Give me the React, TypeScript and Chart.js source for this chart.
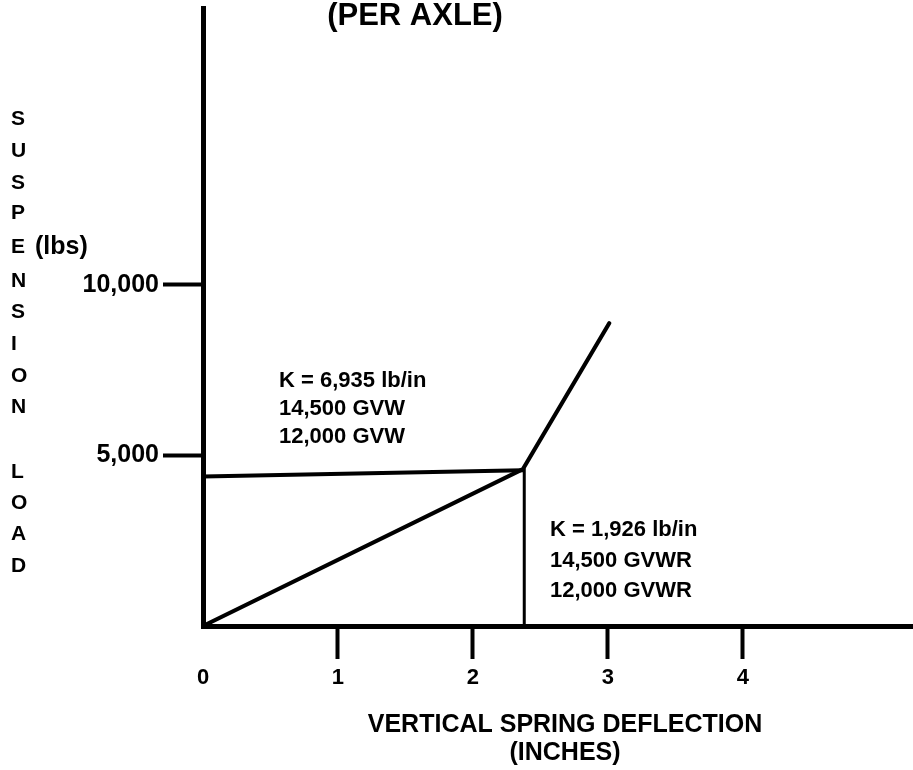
import React, { useEffect, useRef } from 'react';
import { Chart, registerables } from 'chart.js';

Chart.register(...registerables);

// ---- data ----
const springDeflection = [0, 2.37, 3.01]; // inches
const springLoad = [0, 4600, 8880]; // lbs
const gvwLineDeflection = [0, 2.37];
const gvwLineLoad = [4380, 4570];
const gvwrLineDeflection = [2.38, 2.38];
const gvwrLineLoad = [4600, 0];

const xTickValues = [0, 1, 2, 3, 4];
const xTickLabels = ['0', '1', '2', '3', '4'];
const yTickValues = [5000, 10000];
const yTickLabels = ['5,000', '10,000'];
const xMin = 0;
const xMax = 5.26;
const yMin = 0;
const yMax = 18120;

const chartTitle = '(PER AXLE)';
const yTitleLetters = ['S', 'U', 'S', 'P', 'E', 'N', 'S', 'I', 'O', 'N', '', 'L', 'O', 'A', 'D'];
const yTitleUnit = '(lbs)';
const xTitleLines = ['VERTICAL SPRING DEFLECTION', '(INCHES)'];
const noteFront = ['K = 6,935 lb/in', '14,500 GVW', '12,000 GVW'];
const noteRear = ['K = 1,926 lb/in', '14,500 GVWR', '12,000 GVWR'];

const FONT = "'Liberation Sans', Arial, Helvetica, sans-serif";

const textPlugin = {
  id: 'textPlugin',
  afterDraw(chart: any) {
    const ctx = chart.ctx as CanvasRenderingContext2D;
    ctx.save();
    ctx.fillStyle = '#000';
    ctx.textBaseline = 'alphabetic';

    // title
    ctx.font = `bold 31px ${FONT}`;
    ctx.textAlign = 'center';
    ctx.fillText(chartTitle, 415, 25);

    // y title stacked letters
    ctx.font = `bold 21px ${FONT}`;
    ctx.textAlign = 'left';
    const yBase = [125, 157, 189, 219, 253, 287, 318, 350, 382, 413, 0, 478, 509, 540, 572];
    yTitleLetters.forEach((ch, i) => {
      if (ch) ctx.fillText(ch, 11, yBase[i]);
    });
    ctx.font = `bold 25px ${FONT}`;
    ctx.fillText(yTitleUnit, 35, 254);

    // x title
    ctx.font = `bold 25px ${FONT}`;
    ctx.textAlign = 'center';
    ctx.fillText(xTitleLines[0], 565, 732);
    ctx.fillText(xTitleLines[1], 565, 760);

    // notes
    ctx.font = `bold 22px ${FONT}`;
    ctx.textAlign = 'left';
    noteFront.forEach((t, i) => ctx.fillText(t, 279, 387 + i * 28));
    noteRear.forEach((t, i) => ctx.fillText(t, 550, 536 + i * 30.5));

    ctx.restore();
  },
};

export default function App() {
  const ref = useRef<HTMLCanvasElement | null>(null);

  useEffect(() => {
    if (!ref.current) return;
    const line = (xs: number[], ys: number[], w: number) => ({
      data: xs.map((x, i) => ({ x, y: ys[i] })),
      borderColor: '#000',
      backgroundColor: '#000',
      borderWidth: w,
      pointRadius: 0,
      showLine: true,
      fill: false,
      tension: 0,
      borderCapStyle: 'round' as const,
    });

    const chart = new Chart(ref.current, {
      type: 'scatter',
      data: {
        datasets: [
          line(springDeflection, springLoad, 4),
          line(gvwLineDeflection, gvwLineLoad, 4),
          line(gvwrLineDeflection, gvwrLineLoad, 3),
        ],
      },
      options: {
        responsive: false,
        animation: false,
        devicePixelRatio: 1,
        layout: { padding: { top: 8, right: 0, left: 0, bottom: 0 } },
        plugins: {
          legend: { display: false },
          tooltip: { enabled: false },
          title: { display: false },
        },
        scales: {
          x: {
            type: 'linear',
            min: xMin,
            max: xMax,
            afterFit(scale: any) {
              scale.height = 144;
              scale.paddingLeft = 0;
              scale.paddingRight = 0;
            },
            afterBuildTicks(scale: any) {
              scale.ticks = xTickValues.map((v) => ({ value: v }));
            },
            border: { display: true, color: '#000', width: 5 },
            grid: {
              drawOnChartArea: false,
              drawTicks: true,
              tickLength: 33,
              tickWidth: 4,
              tickColor: (c: any) => (c.tick && c.tick.value === 0 ? 'rgba(0,0,0,0)' : '#000'),
            },
            ticks: {
              color: '#000',
              autoSkip: false,
              maxRotation: 0,
              padding: 6,
              font: { family: FONT, weight: 'bold', size: 22 },
              callback: (v: any) => {
                const i = xTickValues.indexOf(Number(v));
                return i >= 0 ? xTickLabels[i] : '';
              },
            },
          },
          y: {
            type: 'linear',
            min: yMin,
            max: yMax,
            afterFit(scale: any) {
              scale.width = 203;
              scale.paddingTop = 0;
              scale.paddingBottom = 0;
            },
            afterBuildTicks(scale: any) {
              scale.ticks = yTickValues.map((v) => ({ value: v }));
            },
            border: { display: true, color: '#000', width: 5 },
            grid: {
              drawOnChartArea: false,
              drawTicks: true,
              tickLength: 40,
              tickWidth: 4,
              tickColor: '#000',
            },
            ticks: {
              color: '#000',
              autoSkip: false,
              padding: 4,
              font: { family: FONT, weight: 'bold', size: 25 },
              callback: (v: any) => {
                const i = yTickValues.indexOf(Number(v));
                return i >= 0 ? yTickLabels[i] : '';
              },
            },
          },
        },
      } as any,
      plugins: [textPlugin],
    });
    return () => chart.destroy();
  }, []);

  return (
    <div style={{ position: 'absolute', left: 0, top: 0, width: 913, height: 770, background: '#fff' }}>
      <canvas ref={ref} width={913} height={770} style={{ display: 'block' }} />
    </div>
  );
}
